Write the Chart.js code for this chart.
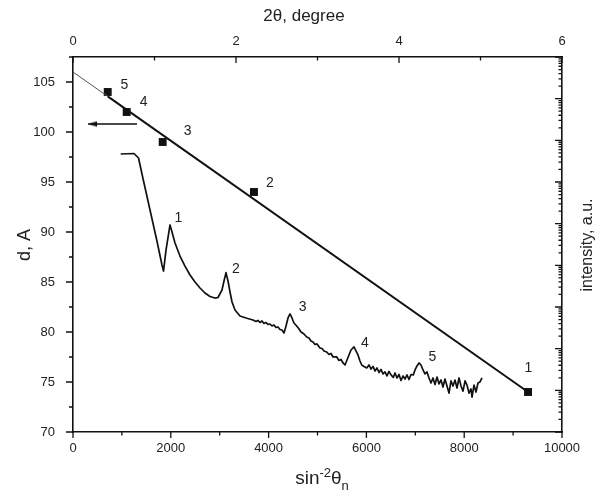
<!DOCTYPE html>
<html>
<head>
<meta charset="utf-8">
<script src="https://cdn.jsdelivr.net/npm/chart.js@4.4.1/dist/chart.umd.min.js"></script>
<style>
  body { margin: 0; background: #fff; }
  canvas { display: block; }
</style>
</head>
<body>
<canvas id="chart" width="608" height="499"></canvas>
<script>
// d-spacing points (squares), order number n = 5,4,3,2,1
const dX = [710, 1098, 1834, 3701, 9305];
const dY = [104.0, 102.0, 99.0, 94.0, 74.0];
const dNames = ["5", "4", "3", "2", "1"];

// linear fit, thin part goes from the axis to the first point
const fitX = [0, 710, 9305];
const fitY = [106.0, 103.56, 74.0];

// arrow pointing to the left axis
const arrowX = [1309, 307];
const arrowY = [100.8, 100.8];

// SAXS intensity curve (right axis, log, a.u.)
const curveX = [975, 1247, 1340, 1438, 1575, 1712, 1820, 1851, 1902, 1984,
  2025, 2086, 2188, 2290, 2393, 2495, 2597, 2699, 2802, 2904,
  2965, 3047, 3088, 3129, 3170, 3211, 3252, 3313, 3415, 3538,
  3681, 3743, 3783, 3824, 3865, 3906, 3947, 3988, 4029, 4070,
  4110, 4151, 4192, 4233, 4274, 4315, 4356, 4397, 4438, 4478,
  4519, 4575, 4622, 4663, 4724, 4779, 4826, 4867, 4908, 4949,
  4990, 5051, 5092, 5133, 5188, 5235, 5276, 5317, 5393, 5440,
  5481, 5522, 5563, 5603, 5644, 5685, 5746, 5787, 5828, 5869,
  5904, 5951, 6006, 6053, 6094, 6135, 6176, 6217, 6258, 6299,
  6340, 6380, 6421, 6462, 6503, 6550, 6585, 6626, 6667, 6708,
  6749, 6789, 6830, 6871, 6912, 6959, 6994, 7035, 7076, 7117,
  7157, 7198, 7239, 7280, 7321, 7362, 7403, 7444, 7485, 7526,
  7566, 7607, 7648, 7689, 7730, 7771, 7812, 7853, 7894, 7935,
  7976, 8017, 8057, 8098, 8139, 8160, 8200, 8241, 8282, 8323,
  8364];
const curveI = [4.70e6, 4.83e6, 3.77e6, 1.12e6, 2.13e5, 4.06e4, 1.02e4, 7.3e3, 2.33e4, 9.3e4,
  6.31e4, 3.44e4, 1.67e4, 9.6e3, 5.86e3, 3.98e3, 2.86e3, 2.17e3, 1.79e3, 1.64e3,
  1.69e3, 2.56e3, 4.21e3, 6.67e3, 4.21e3, 2.29e3, 1.32e3, 847, 608, 545,
  488, 449, 475, 425, 462, 402, 425, 381, 391, 350,
  370, 322, 332, 289, 281, 238, 350, 545, 680, 545,
  414, 350, 297, 252, 225, 191, 181, 153, 145, 126,
  130, 104, 101, 88.0, 83.3, 72.5, 76.7, 63.2, 63.2, 52.1,
  55.0, 45.4, 40.6, 53.5, 70.6, 93.0, 110, 88.0, 70.6, 50.6,
  40.6, 37.4, 34.4, 40.6, 32.5, 37.4, 29.1, 34.4, 26.8, 31.7,
  24.7, 27.6, 22.1, 28.4, 23.4, 20.4, 26.1, 19.8, 24.0, 17.2,
  22.1, 18.7, 23.4, 18.2, 24.0, 23.4, 30.8, 38.4, 45.4, 40.6,
  30.8, 24.7, 27.6, 19.8, 15.0, 19.8, 13.8, 20.9, 14.2, 17.7,
  12.0, 18.7, 12.7, 8.6, 16.8, 12.7, 17.7, 11.4, 19.8, 12.7,
  9.6, 16.8, 13.4, 8.6, 10.8, 6.9, 13.4, 9.1, 15.0, 15.9,
  19.8];

// peak numbers on the curve (placed in d / sin^-2 coordinates)
const peakNames = ["1", "2", "3", "4", "5"];
const peakX = [2153, 3333, 4697, 5971, 7348];
const peakY = [91.4, 86.3, 82.5, 78.9, 77.5];
const pointLabelX = [1049, 1443, 2345, 4024, 9311];
const pointLabelY = [104.7, 103.0, 100.1, 94.9, 76.4];

const ink = "#111";
const textColor = "#222";
const fontFam = "'Liberation Sans', Arial, sans-serif";

Chart.defaults.font.family = fontFam;
Chart.defaults.font.size = 13;
Chart.defaults.color = textColor;

// arrow head as a small picture, tip in the middle
const headCanvas = document.createElement("canvas");
headCanvas.width = 20;
headCanvas.height = 7;
const hc = headCanvas.getContext("2d");
hc.fillStyle = ink;
hc.beginPath();
hc.moveTo(10, 3.5);
hc.lineTo(19, 0.8);
hc.lineTo(19, 6.2);
hc.closePath();
hc.fill();

// tick marks: left/bottom outside, top/right inside
const tickMarks = {
  id: "tickMarks",
  afterDraw(chart) {
    const ctx = chart.ctx;
    const s = chart.scales;
    ctx.save();
    ctx.strokeStyle = ink;
    ctx.lineWidth = 1.3;
    ctx.beginPath();
    s.y.ticks.forEach((t) => {
      const p = s.y.getPixelForValue(t.value);
      const len = t.value % 5 === 0 ? 7 : 4;
      ctx.moveTo(s.y.right, p);
      ctx.lineTo(s.y.right - len, p);
    });
    s.x.ticks.forEach((t) => {
      const p = s.x.getPixelForValue(t.value);
      const len = t.value % 2000 === 0 ? 6 : 3.5;
      ctx.moveTo(p, s.x.top);
      ctx.lineTo(p, s.x.top + len);
    });
    s.x2.ticks.forEach((t) => {
      const p = s.x2.getPixelForValue(t.value);
      const len = t.value % 2 === 0 ? 6 : 3.5;
      ctx.moveTo(p, s.x2.bottom);
      ctx.lineTo(p, s.x2.bottom + len);
    });
    s.y2.ticks.forEach((t) => {
      const p = s.y2.getPixelForValue(t.value);
      const lg = Math.log10(t.value);
      const len = Math.abs(lg - Math.round(lg)) < 1e-6 ? 7 : 3.5;
      ctx.moveTo(s.y2.left, p);
      ctx.lineTo(s.y2.left - len, p);
    });
    ctx.stroke();
    ctx.restore();
  },
};

// numbers next to points and peaks, plus axis titles
const textLayer = {
  id: "textLayer",
  afterDraw(chart) {
    const ctx = chart.ctx;
    const { x, y } = chart.scales;
    ctx.save();
    ctx.fillStyle = textColor;
    ctx.textAlign = "center";
    ctx.textBaseline = "middle";
    ctx.font = "14px " + fontFam;
    dNames.forEach((n, i) => {
      ctx.fillText(n, x.getPixelForValue(pointLabelX[i]), y.getPixelForValue(pointLabelY[i]));
    });
    peakNames.forEach((n, i) => {
      ctx.fillText(n, x.getPixelForValue(peakX[i]), y.getPixelForValue(peakY[i]));
    });

    // top title
    ctx.font = "17px " + fontFam;
    ctx.fillText("2\u03B8, degree", 304, 16);

    // left title
    ctx.save();
    ctx.translate(25, 245);
    ctx.rotate(-Math.PI / 2);
    ctx.font = "18px " + fontFam;
    ctx.fillText("d, A", 0, 0);
    ctx.restore();

    // right title
    ctx.save();
    ctx.translate(588, 245);
    ctx.rotate(-Math.PI / 2);
    ctx.font = "16px " + fontFam;
    ctx.fillText("intensity, a.u.", 0, 0);
    ctx.restore();

    // bottom title sin^-2 theta_n
    const big = "19px " + fontFam;
    const small = "13px " + fontFam;
    const parts = [
      { t: "sin", f: big, dy: 0 },
      { t: "-2", f: small, dy: -7 },
      { t: "\u03B8", f: big, dy: 0 },
      { t: "n", f: small, dy: 6 },
    ];
    let total = 0;
    parts.forEach((p) => {
      ctx.font = p.f;
      p.w = ctx.measureText(p.t).width;
      total += p.w;
    });
    let cx = 322 - total / 2;
    ctx.textAlign = "left";
    ctx.textBaseline = "alphabetic";
    parts.forEach((p) => {
      ctx.font = p.f;
      ctx.fillText(p.t, cx, 484 + p.dy);
      cx += p.w;
    });
    ctx.restore();
  },
};

const ctx = document.getElementById("chart").getContext("2d");
const chart = new Chart(ctx, {
  type: "scatter",
  data: {
    datasets: [
      {
        label: "intensity",
        data: curveX.map((v, i) => ({ x: v, y: curveI[i] })),
        xAxisID: "x",
        yAxisID: "y2",
        showLine: true,
        borderColor: ink,
        borderWidth: 1.7,
        borderJoinStyle: "round",
        pointRadius: 0,
        tension: 0,
      },
      {
        label: "fit",
        data: fitX.map((v, i) => ({ x: v, y: fitY[i] })),
        xAxisID: "x",
        yAxisID: "y",
        showLine: true,
        borderColor: ink,
        borderWidth: 2,
        pointRadius: 0,
        segment: {
          borderWidth: (c) => (c.p0DataIndex === 0 ? 1 : 2),
          borderColor: (c) => (c.p0DataIndex === 0 ? "#555" : ink),
        },
      },
      {
        label: "d",
        data: dX.map((v, i) => ({ x: v, y: dY[i] })),
        xAxisID: "x",
        yAxisID: "y",
        showLine: false,
        pointStyle: "rect",
        pointRadius: 5.6,
        pointBackgroundColor: ink,
        pointBorderColor: ink,
        pointBorderWidth: 0,
      },
      {
        label: "arrow",
        data: arrowX.map((v, i) => ({ x: v, y: arrowY[i] })),
        xAxisID: "x",
        yAxisID: "y",
        showLine: true,
        borderColor: ink,
        borderWidth: 1.3,
        pointStyle: (c) => (c.dataIndex === 1 ? headCanvas : "circle"),
        pointRadius: (c) => (c.dataIndex === 1 ? 5 : 0),
      },
    ],
  },
  options: {
    responsive: false,
    animation: false,
    events: [],
    layout: { padding: 0 },
    plugins: { legend: { display: false }, tooltip: { enabled: false } },
    scales: {
      x: {
        type: "linear",
        position: "bottom",
        min: 0,
        max: 10000,
        grid: { display: false },
        border: { display: true, color: ink, width: 1.6 },
        ticks: {
          stepSize: 1000,
          autoSkip: false,
          maxRotation: 0,
          padding: 1,
          callback: (v) => (v % 2000 === 0 ? String(v) : ""),
        },
        afterFit: (s) => { s.height = 67; },
      },
      x2: {
        type: "linear",
        position: "top",
        min: 0,
        max: 6,
        grid: { display: false },
        border: { display: true, color: ink, width: 1.6 },
        ticks: {
          stepSize: 1,
          autoSkip: false,
          maxRotation: 0,
          padding: 0,
          callback: (v) => (v % 2 === 0 ? String(v) : ""),
        },
        afterFit: (s) => { s.height = 57; },
      },
      y: {
        type: "linear",
        position: "left",
        min: 70,
        max: 107.5,
        grid: { display: false },
        border: { display: true, color: ink, width: 1.6 },
        ticks: {
          stepSize: 2.5,
          autoSkip: false,
          padding: 10,
          callback: (v) => (v % 5 === 0 && v <= 105 ? String(v) : ""),
        },
        afterFit: (s) => { s.width = 73; },
      },
      y2: {
        type: "logarithmic",
        position: "right",
        min: 1,
        max: 1e9,
        grid: { display: false },
        border: { display: true, color: ink, width: 1.6 },
        ticks: { display: false, autoSkip: false },
        afterBuildTicks: (s) => {
          const list = [];
          for (let e = 0; e < 9; e++) {
            for (let k = 1; k < 10; k++) list.push({ value: k * Math.pow(10, e) });
          }
          list.push({ value: 1e9 });
          s.ticks = list;
        },
        afterFit: (s) => { s.width = 46; },
      },
    },
  },
  plugins: [tickMarks, textLayer],
});
</script>
</body>
</html>
